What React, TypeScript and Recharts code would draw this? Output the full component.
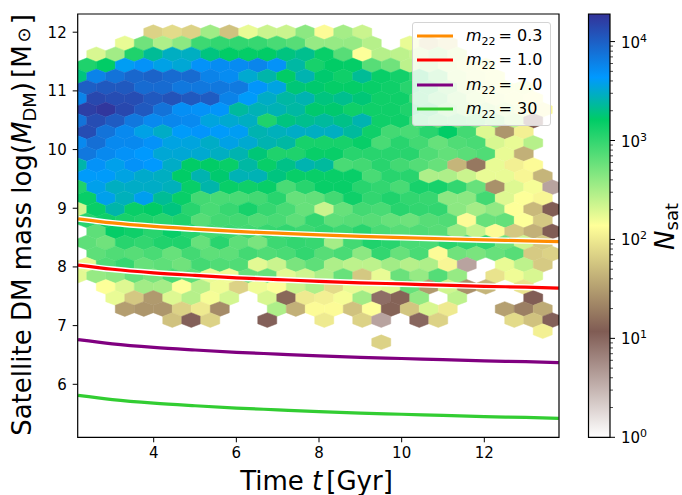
import { ComposedChart, Line, Scatter, XAxis, YAxis, Legend, ReferenceArea } from 'recharts';

const _ = null;
const FONT = '"DejaVu Sans", sans-serif';

// satellite counts per hexagon, top row first (even rows start at the left edge, odd rows half a cell in)
const R00 = [_, _, _, _, 70, 80, 70, 350, 55, 170, 230, 230, 420, 130, 330, 230];
const R01 = [_, _, 170, 550, 300, 420, 900, 1000, 1000, 950, 800, 700, 380, 380, 380, 280, _, 170, 60, 80];
const R02 = [_, 200, 340, 1200, 2200, 2900, 2900, 1900, 1600, 1550, 1600, 1900, 2100, 1500, 700, 140, 280, 260, 230, 300, 200];
const R03 = [1200, 1600, 4000, 4800, 3700, 3300, 4800, 5200, 5300, 5800, 4800, 2400, 1300, 1600, 1550, 700, 550, 260, 300, 200, 170, 150];
const R04 = [1900, 6000, 7500, 9000, 9500, 8500, 8500, 6000, 5200, 3200, 2500, 1600, 2600, 1700, 1400, 2200, 1500, 1350, 1000, 500, 200, 170, 150];
const R05 = [10000, 11000, 11000, 8500, 8500, 7000, 7000, 7000, 6800, 4600, 3600, 1800, 1700, 1550, 1550, 1500, 1400, 1100, 800, 400, 220, 170, 150, 160];
const R06 = [6000, 14000, 13000, 13000, 11000, 12000, 11000, 10500, 6000, 4200, 3000, 2400, 2600, 1900, 2100, 1800, 1400, 1400, 800, 500, 300, 200, 170, 150, 140];
const R07 = [16000, 18000, 14000, 11000, 7500, 5000, 4800, 4600, 2300, 2700, 2700, 2400, 1700, 1700, 1400, 1400, 1400, 1200, 900, 400, 300, 250, 200, 170, 120];
const R08 = [7500, 13000, 10500, 7000, 5500, 5600, 5400, 3500, 3200, 2900, 1200, 1900, 2100, 2300, 2000, 2600, 1400, 1400, 800, 600, 550, 500, 400, 250, 12];
const R09 = [13000, 7500, 5500, 3700, 3000, 4200, 4600, 4200, 4000, 2600, 2800, 3000, 2900, 2900, 2300, 1400, 850, 800, 1100, 1600, 850, 190, 28, 110];
const R10 = [5500, 8000, 5500, 5500, 4800, 3600, 3500, 3000, 3700, 3200, 2600, 2400, 1300, 1300, 1300, 1500, 800, 1100, 850, 600, 750, 800, 200, 170, 280];
const R11 = [7000, 5500, 4800, 4300, 3300, 3300, 3200, 2900, 2600, 1800, 1200, 1200, 1500, 1500, 1100, 1100, 1100, 1100, 750, 620, 680, 750, 170, 42];
const R12 = [2500, 4800, 3800, 4800, 4300, 3000, 1600, 1600, 1500, 2400, 1500, 2000, 2600, 2300, 800, 850, 1100, 850, 720, 600, 45, 18, 170, 110, 130];
const R13 = [4200, 4200, 3600, 3100, 2900, 1600, 2600, 1700, 2700, 2700, 1900, 1500, 1500, 1500, 1500, 800, 1100, 1100, 300, 300, 230, 170, 170, 120, 45];
const R14 = [1200, 3800, 2900, 3000, 3000, 2800, 1500, 2500, 1500, 1400, 1500, 800, 1100, 1500, 1500, 1100, 1000, 800, 1300, 1300, 1000, 600, 26, 190, 150, 4];
const R15 = [1500, 3800, 2800, 3900, 2200, 1500, 850, 800, 800, 850, 1100, 600, 620, 850, 1400, 1000, 1200, 1000, 950, 420, 420, 850, 190, 140, 120];
const R16 = [210, 1500, 2500, 1500, 1600, 1900, 1100, 800, 950, 1300, 950, 800, 600, 230, 600, 850, 800, 1100, 1000, 1000, 420, 330, 400, 140, 48, 12];
const R17 = [1100, 1400, 1300, 1200, 1100, 1200, 700, 850, 850, 750, 800, 650, 1000, 650, 700, 700, 600, 560, 700, 750, 130, 600, 620, 140, 60];
const R18 = [_, 650, 1550, 1400, 1100, 1500, 1100, 850, 900, 850, 950, 1000, 900, 1000, 900, 1100, 800, 700, 750, 700, 370, 240, 130, 60, 42, 12];
const R19 = [650, 550, 1100, 1000, 1200, 1200, 600, 1100, 650, 500, 900, 1000, 950, 330, 850, 1200, 1100, 800, 800, 1100, 1000, 1000, 550, 220, 60];
const R20 = [_, 650, 750, 700, 800, 600, 850, 650, 650, 850, 750, 800, 1000, 700, 800, 420, 1000, 600, 800, 130, 550, 500, 600, 700, 62, 70];
const R21 = [170, 750, 950, 600, 650, 550, 850, 750, 750, 180, 230, 500, 650, 300, 260, 260, 340, 280, 300, 120, 4, _, 170, 260, 62];
const R22 = [180, 380, 420, 600, 500, 800, 650, 170, 160, 600, 600, 180, 220, 300, 600, 60, 170, 580, 380, 720, 380, _, 90, 160, 200];
const R23 = [_, 140, 190, 340, 330, 140, 280, 160, 70, 160, 140, 230, 300, 80, 170, 170, 190, 600, 30, 220, 26, 45, _, 90];
const R24 = [_, _, 170, 60, 30, 190, 280, 150, 210, _, 200, 14, 100, 110, 150, 340, 9, 13, 400, _, 260, _, _, _, 12];
const R25 = [_, _, 32, 28, 28, 70, 100, 24, _, _, 300, 42, 130, 130, 55, 140, 13, 58, 200, 100, _, _, 33, 20, 38];
const R26 = [_, _, _, _, _, 55, 11, 70, _, _, 11, _, _, 100, _, 70, 4, _, 10, 70, _, _, _, 80, 55, 11];
const R27 = [_, _, _, _, _, _, _, _, _, _, _, _, _, _, _, _, _, _, _, _, _, _, _, _, 110];
const R28 = [_, _, _, _, _, _, _, _, _, _, _, _, _, _, _, _, 70];
const ROWS = [R00, R01, R02, R03, R04, R05, R06, R07, R08, R09, R10, R11, R12, R13, R14, R15, R16, R17, R18, R19, R20, R21, R22, R23, R24, R25, R26, R27, R28];

// bin grid of the hexbin, in data units
const T_START = 2.151;
const T_STEP = 0.4597;
const MASS_START = 12.0;
const MASS_STEP = 0.18868;

const TIMES = [2.17, 3, 4, 5, 6, 7, 8, 9, 10, 11, 12, 13, 13.8];
const M03 = [8.82, 8.75, 8.69, 8.645, 8.605, 8.575, 8.545, 8.52, 8.5, 8.48, 8.46, 8.445, 8.43];
const M10 = [8.03, 7.96, 7.9, 7.855, 7.815, 7.785, 7.755, 7.73, 7.71, 7.69, 7.67, 7.655, 7.64];
const M70 = [6.76, 6.69, 6.63, 6.585, 6.545, 6.515, 6.485, 6.46, 6.44, 6.42, 6.4, 6.385, 6.37];
const M30 = [5.81, 5.74, 5.68, 5.635, 5.595, 5.565, 5.535, 5.51, 5.49, 5.47, 5.45, 5.435, 5.42];

const X_TICKS = [4, 6, 8, 10, 12];
const Y_TICKS = [6, 7, 8, 9, 10, 11, 12];
const CB_MAX = 19000;
const CB_TICKS = [1, 2, 3, 4, 5, 6, 7, 8, 9, 10, 20, 30, 40, 50, 60, 70, 80, 90, 100, 200, 300, 400, 500, 600, 700, 800, 900, 1000, 2000, 3000, 4000, 5000, 6000, 7000, 8000, 9000, 10000];
const CB_EXPONENTS: Record<number, number> = { 1: 0, 10: 1, 100: 2, 1000: 3, 10000: 4 };
const CB_EDGES = [{ x: 0 }, { x: 1 }];

const CURVES = [
  { key: 'm03', label: '0.3', color: '#ff8c00' },
  { key: 'm10', label: '1.0', color: '#ff0000' },
  { key: 'm70', label: '7.0', color: '#800080' },
  { key: 'm30', label: '30', color: '#32cd32' },
];

// terrain_r colormap
const CMAP = [
  { at: 0, rgb: [255, 255, 255] },
  { at: 0.25, rgb: [128, 92, 84] },
  { at: 0.5, rgb: [255, 255, 153] },
  { at: 0.75, rgb: [0, 204, 102] },
  { at: 0.85, rgb: [0, 153, 255] },
  { at: 1, rgb: [51, 51, 153] },
];

function colorFor(n: number) {
  const t = Math.min(1, Math.log10(n) / Math.log10(CB_MAX));
  let i = 0;
  while (i < CMAP.length - 2 && t > CMAP[i + 1].at) i++;
  const a = CMAP[i];
  const b = CMAP[i + 1];
  const f = (t - a.at) / (b.at - a.at);
  const c = a.rgb.map((v, j) => Math.round(v + (b.rgb[j] - v) * f));
  return `rgb(${c[0]},${c[1]},${c[2]})`;
}

const hexData = ROWS.flatMap((row, r) =>
  row.flatMap((n, k) =>
    n === null
      ? []
      : [{ t: T_START + T_STEP * (k + (r % 2 ? 0.5 : 0)), mass: MASS_START - MASS_STEP * r, n }],
  ),
);

const lineData = TIMES.map((t, i) => ({ t, m03: M03[i], m10: M10[i], m70: M70[i], m30: M30[i] }));

function Hexagon(props: any) {
  const { cx, cy, payload } = props;
  const w = 9.5;
  const h = 7.38;
  const pts = [
    [cx, cy - h],
    [cx + w, cy - h / 2],
    [cx + w, cy + h / 2],
    [cx, cy + h],
    [cx - w, cy + h / 2],
    [cx - w, cy - h / 2],
  ]
    .map((p) => p.join(','))
    .join(' ');
  const fill = colorFor(payload.n);
  return <polygon points={pts} fill={fill} stroke={fill} strokeWidth={0.5} />;
}

function CurveLegend() {
  return (
    <div
      style={{
        boxSizing: 'border-box',
        width: 139,
        height: 104,
        background: 'rgba(255,255,255,0.8)',
        border: '1px solid #d4d4d4',
        borderRadius: 3,
        fontFamily: FONT,
        fontSize: 16,
        color: '#000',
        paddingTop: 1,
      }}
    >
      {CURVES.map((c) => (
        <div key={c.key} style={{ position: 'relative', height: 24.6, lineHeight: '24.6px', whiteSpace: 'nowrap' }}>
          <svg width={36} height={8} style={{ position: 'absolute', left: 4, top: 8 }}>
            <line x1={0} x2={36} y1={4} y2={4} stroke={c.color} strokeWidth={3.2} />
          </svg>
          <div style={{ position: 'absolute', left: 53, top: 0 }}>
            <i>m</i>
            <sub style={{ fontSize: 11, lineHeight: 0, verticalAlign: -4 }}>22</sub>
            <span style={{ marginLeft: 3 }}>= {c.label}</span>
          </div>
        </div>
      ))}
    </div>
  );
}

function CbTick(props: any) {
  const { x, y, payload } = props;
  const exp = CB_EXPONENTS[payload.value];
  const major = exp !== undefined;
  return (
    <g>
      <line x1={x} x2={x + (major ? 5 : 3)} y1={y} y2={y} stroke="#000" strokeWidth={major ? 1 : 0.7} />
      {major && (
        <text x={x + 11} y={y + 6} fontFamily={FONT} fontSize={15} fill="#000">
          10
          <tspan dy={-6} fontSize={11}>
            {exp}
          </tspan>
        </text>
      )}
    </g>
  );
}

export default function App() {
  return (
    <div style={{ position: 'absolute', left: 0, top: 0, width: 682, height: 495, background: '#fff' }}>
      <div style={{ position: 'absolute', left: 0, top: 0 }}>
        <ComposedChart width={682} height={495} data={lineData} margin={{ top: 14, right: 123, bottom: 0, left: 0 }}>
          <XAxis
            dataKey="t"
            type="number"
            domain={[2.161, 13.807]}
            ticks={X_TICKS}
            allowDataOverflow
            height={57.7}
            tickSize={5}
            tickMargin={5}
            tickLine={{ stroke: '#000' }}
            axisLine={false}
            tick={{ fontFamily: FONT, fontSize: 15, fill: '#000' }}
          />
          <YAxis
            type="number"
            domain={[5.097, 12.31]}
            ticks={Y_TICKS}
            allowDataOverflow
            width={77.7}
            tickSize={5}
            tickMargin={6}
            tickLine={{ stroke: '#000' }}
            axisLine={false}
            tick={{ fontFamily: FONT, fontSize: 15, fill: '#000' }}
          />
          <Scatter
            data={hexData}
            dataKey="mass"
            shape={Hexagon}
            isAnimationActive={false}
            legendType="none"
            zIndex={100}
          />
          {CURVES.map((c) => (
            <Line
              key={`${c.key}-edge`}
              dataKey={c.key}
              type="monotone"
              stroke="#fff"
              strokeWidth={6}
              dot={false}
              legendType="none"
              isAnimationActive={false}
              zIndex={110}
            />
          ))}
          {CURVES.map((c) => (
            <Line
              key={c.key}
              dataKey={c.key}
              name={c.label}
              type="monotone"
              stroke={c.color}
              strokeWidth={3.2}
              dot={false}
              isAnimationActive={false}
              zIndex={120}
            />
          ))}
          <ReferenceArea
            x1={2.161}
            x2={13.807}
            y1={5.097}
            y2={12.31}
            fill="none"
            stroke="#000"
            strokeWidth={1.2}
            fillOpacity={0}
            zIndex={130}
          />
          <Legend
            layout="vertical"
            align="center"
            verticalAlign="middle"
            content={<CurveLegend />}
            wrapperStyle={{ left: 412, top: 21.5, width: 139, height: 104 }}
          />
          <text x={316.5} y={490} textAnchor="middle" fontFamily={FONT} fontSize={26} fill="#000">
            Time <tspan fontStyle="italic">t</tspan>
            <tspan dx={4}>[Gyr]</tspan>
          </text>
          <text
            transform="translate(31,225) rotate(-90)"
            textAnchor="middle"
            fontFamily={FONT}
            fontSize={26}
            fill="#000"
          >
            Satellite DM mass log(<tspan fontStyle="italic">M</tspan>
            <tspan dy={5} fontSize={18}>
              DM
            </tspan>
            <tspan dy={-5}>)</tspan>
            <tspan dx={4}>[M</tspan>
            <tspan dy={-1} dx={3} fontSize={18}>
              ⊙
            </tspan>
            <tspan dy={1} dx={3}>
              ]
            </tspan>
          </text>
        </ComposedChart>
      </div>
      <div style={{ position: 'absolute', left: 570, top: 0 }}>
        <ComposedChart width={112} height={495} data={CB_EDGES} margin={{ top: 14, right: 0, bottom: 57.7, left: 18.5 }}>
          <defs>
            <linearGradient id="cbGradient" x1="0" y1="1" x2="0" y2="0">
              {CMAP.map((s) => (
                <stop key={s.at} offset={s.at} stopColor={`rgb(${s.rgb.join(',')})`} />
              ))}
            </linearGradient>
          </defs>
          <XAxis type="number" dataKey="x" domain={[0, 1]} height={0} axisLine={false} tickLine={false} tick={false} />
          <YAxis
            type="number"
            orientation="right"
            scale="log"
            domain={[1, CB_MAX]}
            ticks={CB_TICKS}
            interval={0}
            allowDataOverflow
            width={72}
            axisLine={false}
            tickLine={false}
            tickSize={0}
            tickMargin={0}
            tick={<CbTick />}
          />
          <ReferenceArea
            x1={0}
            x2={1}
            y1={1}
            y2={CB_MAX}
            fill="url(#cbGradient)"
            fillOpacity={1}
            stroke="#000"
            strokeWidth={1.2}
            ifOverflow="visible"
          />
          <text
            transform="translate(104,226.5) rotate(-90)"
            textAnchor="middle"
            fontFamily={FONT}
            fontSize={26}
            fill="#000"
          >
            <tspan fontStyle="italic">N</tspan>
            <tspan dy={4} fontSize={18}>
              sat
            </tspan>
          </text>
        </ComposedChart>
      </div>
    </div>
  );
}
